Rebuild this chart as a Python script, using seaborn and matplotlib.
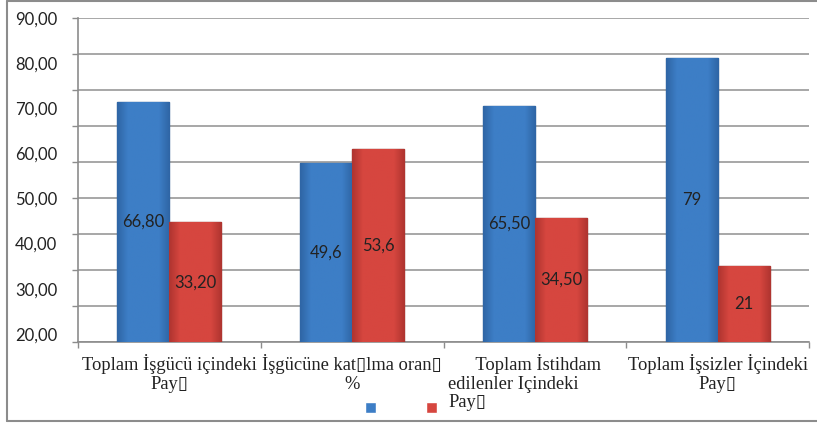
import matplotlib
matplotlib.use("Agg")
import matplotlib.pyplot as plt
import matplotlib.transforms as mtrans
from matplotlib.colors import to_rgb
from matplotlib.lines import Line2D
import numpy as np
import pandas as pd
import seaborn as sns

# data
categories = [
    "Toplam İşgücü içindeki\nPay\u25af",
    "İşgücüne kat\u25aflma oran\u25af\n%",
    "      Toplam İstihdam\nedilenler Içindeki\nPay\u25af",
    "Toplam İşsizler İçindeki\nPay\u25af",
]
series = ["seri1", "seri2"]
blue_values = [66.80, 49.6, 65.50, 79]
red_values = [33.20, 53.6, 34.50, 21]
blue_labels = ["66,80", "49,6", "65,50", "79"]
red_labels = ["33,20", "53,6", "34,50", "21"]
ytick_labels = ["90,00", "80,00", "70,00", "60,00", "50,00", "40,00", "30,00", "20,00"]

df = pd.DataFrame({
    "kategori": categories * 2,
    "seri": [series[0]] * 4 + [series[1]] * 4,
    "deger": blue_values + red_values,
})

sns.set_style("white")
plt.rcParams["font.family"] = ["Lato", "DejaVu Sans"]

blue = "#3d7ec6"
red = "#d6463f"
grey = "#8c8c8c"

fig = plt.figure(figsize=(8.17, 4.23), dpi=100)
ax = fig.add_axes([78 / 817, 1 - 342 / 423, (809 - 78) / 817, (342 - 18) / 423])

sns.barplot(data=df, x="kategori", y="deger", hue="seri", palette=[blue, red],
            width=0.57, saturation=1, ax=ax, zorder=3)

# soft horizontal shading on each bar, like the original's bevelled bars
def shade(base, dark):
    b, d = np.array(to_rgb(base)), np.array(to_rgb(dark))
    t = np.concatenate([np.linspace(1, 0, 8), np.zeros(20), np.linspace(0, 1, 8)])
    return (b[None, :] * (1 - t[:, None]) + d[None, :] * t[:, None])[None, :, :]

edges = ["#2a5a8f", "#8e2a26"]
darks = ["#2f66a6", "#b03530"]
for cont, ec, dk, labs in zip(ax.containers, edges, darks, [blue_labels, red_labels]):
    for bar in cont:
        bar.set_edgecolor(ec)
        bar.set_linewidth(1.0)
        x0, w, h = bar.get_x(), bar.get_width(), bar.get_height()
        im = ax.imshow(shade(bar.get_facecolor(), dk), extent=(x0, x0 + w, 0, h),
                       aspect="auto", zorder=3.5, interpolation="bilinear")
        im.set_clip_path(bar)
    ax.bar_label(cont, labels=labs, label_type="center", fontsize=12, color="#222222", zorder=5)

ax.set_xlim(-0.5, 3.5)
ax.set_ylim(0, 90)
ax.set_xlabel("")
ax.set_ylabel("")

# gridlines / ticks at every 10, labels placed as in the picture
ax.yaxis.remove_overlapping_locs = False
ax.set_yticks(range(0, 91, 10))
ax.set_yticklabels([])
ax.tick_params(axis="y", which="major", length=4.5, width=1, color=grey, left=True)
label_pos = [90 - i * 12.53 for i in range(8)]
ax.set_yticks(label_pos, ytick_labels, minor=True)
ax.tick_params(axis="y", which="minor", length=0, pad=15, labelsize=12, labelcolor="#222222")
ax.yaxis.grid(True, which="major", color="#a0a0a0", lw=1.3)
ax.set_axisbelow(True)

ax.set_xticks(range(4))
ax.set_xticks([-0.5, 0.5, 1.5, 2.5, 3.5], minor=True)
ax.tick_params(axis="x", which="major", length=0, pad=9)
ax.tick_params(axis="x", which="minor", length=4, width=1, color=grey, bottom=True)
for lbl in ax.get_xticklabels():
    lbl.set_family(["Liberation Serif", "DejaVu Sans"])
    lbl.set_fontsize(13.3)
    lbl.set_color("#222222")
    lbl.set_linespacing(1.1)

for s in ["top", "right"]:
    ax.spines[s].set_visible(False)
for s in ["left", "bottom"]:
    ax.spines[s].set_color(grey)
    ax.spines[s].set_linewidth(1.2)

# legend with blank labels, as in the picture
handles = ax.get_legend().legend_handles
ax.get_legend().remove()
fig.legend(handles, ["", ""], loc="center", bbox_to_anchor=(401 / 817, 1 - 408 / 423),
           ncol=2, frameon=False, handlelength=0.8, handleheight=0.8,
           handletextpad=0, columnspacing=3.6, fontsize=10)

# third label sits left of its tick in the original
fig.canvas.draw()
lbl3 = ax.get_xticklabels()[2]
lbl3.set_multialignment("left")
fig.canvas.draw()
bb = lbl3.get_window_extent()
dx = (448 - bb.x0) / fig.dpi
lbl3.set_transform(lbl3.get_transform() + mtrans.ScaledTranslation(dx, 0, fig.dpi_scale_trans))

# outer frame
fig.add_artist(Line2D([7 / 817, 7 / 817], [1 - 421 / 423, 1 - 1.5 / 423], transform=fig.transFigure, color=grey, lw=1.5))
fig.add_artist(Line2D([7 / 817, 1], [1 - 1.5 / 423, 1 - 1.5 / 423], transform=fig.transFigure, color=grey, lw=1.5))
fig.add_artist(Line2D([7 / 817, 1], [1 - 421 / 423, 1 - 421 / 423], transform=fig.transFigure, color=grey, lw=1.5))

fig.savefig("out.png", dpi=100)
